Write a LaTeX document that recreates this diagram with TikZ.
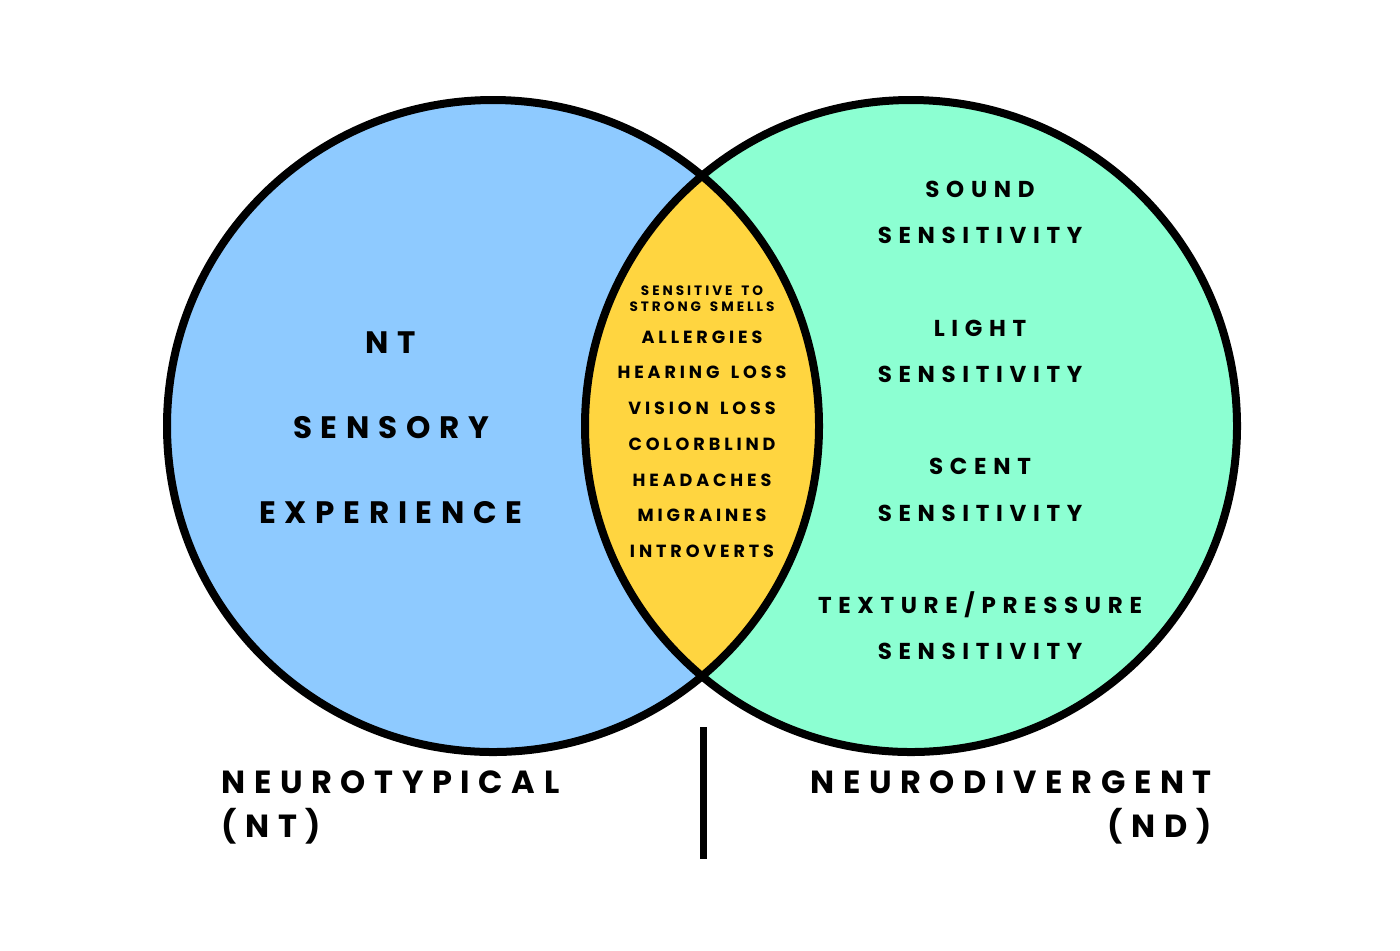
\documentclass[tikz,border=0pt]{standalone}
\usepackage{fontspec}
\setmainfont{Poppins}
\newfontfamily\popA[LetterSpace=28]{Poppins}
\newfontfamily\popL[LetterSpace=27]{Poppins}
\newfontfamily\popB[LetterSpace=29]{Poppins}
\newfontfamily\popC[LetterSpace=22,WordSpace=1.5]{Poppins}
\definecolor{ntblue}{RGB}{142,202,255}
\definecolor{ndgreen}{RGB}{140,255,210}
\definecolor{lensyellow}{RGB}{255,213,64}
\begin{document}
\begin{tikzpicture}[x=0.5pt,y=-0.5pt,
  big/.style={inner sep=0pt,font=\popA\bfseries\fontsize{15.5}{18}\selectfont},
  label/.style={inner sep=0pt,font=\popL\bfseries\fontsize{16}{19}\selectfont},
  item/.style={inner sep=0pt,font=\popB\bfseries\fontsize{11.5}{14}\selectfont},
  lens/.style={inner sep=0pt,font=\popC\bfseries\fontsize{8.8}{10}\selectfont},
  lenssmall/.style={inner sep=0pt,font=\popC\bfseries\fontsize{6.8}{8}\selectfont},
  ring/.style={line width=4pt,draw=black}]
\useasboundingbox (0,0) rectangle (1400,950);
\fill[white] (0,0) rectangle (1400,950);
\coordinate (cl) at (493,426);
\coordinate (cr) at (911,426);
\fill[ntblue] (cl) circle[radius=326];
\fill[ndgreen] (cr) circle[radius=326];
\begin{scope}
  \clip (cl) circle[radius=326];
  \fill[lensyellow] (cr) circle[radius=326];
\end{scope}
\draw[ring] (cl) circle[radius=326];
\draw[ring] (cr) circle[radius=326];
% left texts
\node[big] (nt) at (391,343) {NT};
\node[big] (sensory) at (391,428) {SENSORY};
\node[big] (exp) at (391,513) {EXPERIENCE};
% right texts
\node[item] (r1) at (980,189) {SOUND};
\node[item] (r2) at (980,235) {SENSITIVITY};
\node[item] (r3) at (980,328) {LIGHT};
\node[item] (r4) at (980,374) {SENSITIVITY};
\node[item] (r5) at (980,466) {SCENT};
\node[item] (r6) at (980,513) {SENSITIVITY};
\node[item] (r7) at (980,605) {TEXTURE/PRESSURE};
\node[item] (r8) at (980,651) {SENSITIVITY};
% lens texts
\node[lenssmall] (l1) at (702,291) {SENSITIVE TO};
\node[lenssmall] (l2) at (702,307) {STRONG SMELLS};
\node[lens] (l3) at (702,337) {ALLERGIES};
\node[lens] (l4) at (702,372) {HEARING LOSS};
\node[lens] (l5) at (702,408) {VISION LOSS};
\node[lens] (l6) at (702,444) {COLORBLIND};
\node[lens] (l7) at (702,480) {HEADACHES};
\node[lens] (l8) at (702,515) {MIGRAINES};
\node[lens] (l9) at (702,551) {INTROVERTS};
% bottom labels
\node[label,anchor=west] (ntl) at (221,782) {NEUROTYPICAL};
\node[label,anchor=west] (ntl2) at (221,826) {(NT)};
\node[label,anchor=east] (ndl) at (1212,782) {NEURODIVERGENT};
\node[label,anchor=east] (ndl2) at (1212,826) {(ND)};
\coordinate (vtop) at (703,727);
\coordinate (vbot) at (703,859);
\draw[line width=3.5pt] (vtop) -- (vbot);
\end{tikzpicture}
\end{document}
